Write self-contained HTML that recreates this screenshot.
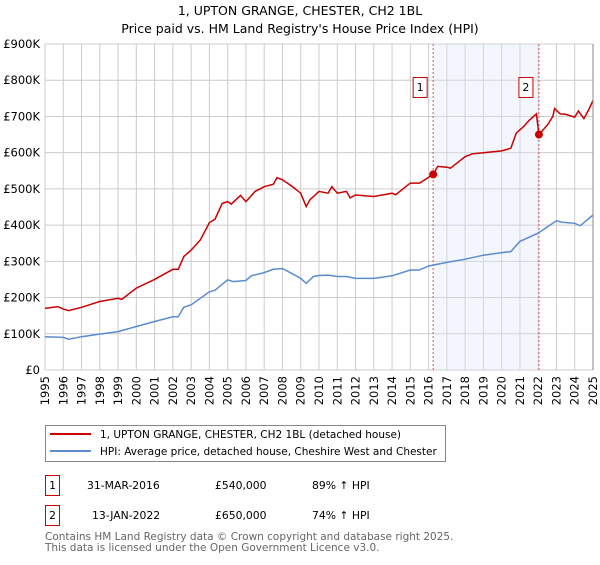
<!DOCTYPE html>
<html><head><meta charset="utf-8"><style>
body{margin:0;background:#fff;font-family:"Liberation Sans","DejaVu Sans",sans-serif;}
svg text{font-family:"DejaVu Sans","Liberation Sans",sans-serif;}
</style></head><body>
<svg id="chart" width="600" height="560" viewBox="0 0 600 560" xmlns="http://www.w3.org/2000/svg">
<text x="300" y="15" text-anchor="middle" font-size="12.5">1, UPTON GRANGE, CHESTER, CH2 1BL</text>
<text x="300" y="33" text-anchor="middle" font-size="12.5">Price paid vs. HM Land Registry's House Price Index (HPI)</text>
<g id="grid"></g><g id="shade"></g><g id="series"></g><g id="axes"></g>
<g>
<rect x="45.5" y="425.5" width="400" height="36" fill="#fff" stroke="#888"/>
<line x1="50" y1="434" x2="91" y2="434" stroke="#cc0000" stroke-width="2"/>
<text x="100" y="438" font-size="10.5">1, UPTON GRANGE, CHESTER, CH2 1BL (detached house)</text>
<line x1="50" y1="451" x2="91" y2="451" stroke="#5b8bd0" stroke-width="2"/>
<text x="100" y="455" font-size="10.5">HPI: Average price, detached house, Cheshire West and Chester</text>
</g>
<g font-size="10.8">
<rect x="45.5" y="475.5" width="14" height="20" fill="#fff" stroke="#cc0000"/>
<text x="52.5" y="489" text-anchor="middle">1</text>
<text x="87" y="489">31-MAR-2016</text><text x="215" y="489">£540,000</text><text x="312" y="489">89% ↑ HPI</text>
<rect x="45.5" y="505.5" width="14" height="20" fill="#fff" stroke="#cc0000"/>
<text x="52.5" y="519" text-anchor="middle">2</text>
<text x="92" y="519">13-JAN-2022</text><text x="215" y="519">£650,000</text><text x="312" y="519">74% ↑ HPI</text>
</g>
<text x="45" y="540" font-size="10.5" fill="#666">Contains HM Land Registry data © Crown copyright and database right 2025.</text>
<text x="45" y="551" font-size="10.5" fill="#666">This data is licensed under the Open Government Licence v3.0.</text>
</svg>
<script>
const hpiYears=[1995,1996,1996.3,1997,1998,1999,2000,2001,2002,2002.3,2002.6,2003,2004,2004.3,2005,2005.3,2006,2006.3,2007,2007.5,2008,2008.5,2009,2009.3,2009.7,2010,2010.5,2011,2011.5,2012,2013,2014,2015,2015.5,2016,2017,2018,2019,2020,2020.5,2021,2022,2022.5,2023,2023.3,2024,2024.3,2025];
const hpiValues=[92,90,85,92,99,106,120,134,147,147,173,180,216,220,249,244,247,260,269,278,280,267,253,239,258,261,262,258,258,253,253,260,276,276,287,297,306,317,324,327,355,378,395,412,408,405,398,428];
const priceYears=[1995,1995.7,1996,1996.3,1997,1998,1999,1999.2,2000,2001,2002,2002.3,2002.6,2003,2003.5,2004,2004.3,2004.7,2005,2005.2,2005.7,2006,2006.5,2007,2007.5,2007.7,2008,2008.5,2009,2009.3,2009.5,2010,2010.5,2010.7,2011,2011.5,2011.7,2012,2013,2014,2014.2,2015,2015.5,2016.25,2016.5,2017,2017.2,2018,2018.4,2019,2020,2020.5,2020.8,2021.2,2021.5,2021.9,2022.04,2022.5,2022.8,2022.9,2023.2,2023.5,2024,2024.2,2024.5,2024.8,2025];
const priceValues=[170,175,168,164,173,189,198,195,226,250,278,278,313,331,359,407,416,460,465,458,482,465,493,506,513,531,525,508,488,451,470,493,488,506,488,493,475,483,479,488,484,516,516,540,562,560,557,589,597,600,605,612,654,672,689,707,650,676,700,722,707,706,698,715,694,722,744];
const saleYears=[2016.25,2022.04];
const saleValues=[540,650];
const saleLabels=["1","2"];
const yTicks=[0,100,200,300,400,500,600,700,800,900];
const yTickLabels=["£0","£100K","£200K","£300K","£400K","£500K","£600K","£700K","£800K","£900K"];
const xTicks=[1995,1996,1997,1998,1999,2000,2001,2002,2003,2004,2005,2006,2007,2008,2009,2010,2011,2012,2013,2014,2015,2016,2017,2018,2019,2020,2021,2022,2023,2024,2025];

const NS="http://www.w3.org/2000/svg";
const X0=45,X1=593,Y0=370,Y1=44;
const xS=y=>X0+(y-1995)/(2025-1995)*(X1-X0);
const yS=v=>Y0-v/900*(Y0-Y1);
function mk(tag,attrs,parent){const e=document.createElementNS(NS,tag);for(const k in attrs)e.setAttribute(k,attrs[k]);parent.appendChild(e);return e;}
const grid=document.getElementById('grid'),axes=document.getElementById('axes'),series=document.getElementById('series'),shade=document.getElementById('shade');
yTicks.forEach((t,i)=>{
  const l=mk('line',{x1:X0,x2:X1,y1:yS(t),y2:yS(t),stroke:'#cccccc'},grid);
  
  
  const tx=mk('text',{x:40,y:yS(t)+4,'text-anchor':'end','font-size':11.5},axes);
  tx.textContent=yTickLabels[i];
  
  
});
xTicks.forEach(t=>{
  const l=mk('line',{x1:xS(t),x2:xS(t),y1:Y1,y2:Y0,stroke:'#cccccc'},grid);
  
  
  const tx=mk('text',{x:0,y:0,'text-anchor':'end','font-size':11.5,transform:`translate(${xS(t)+4},376) rotate(-90)`},axes);
  tx.textContent=t;
  
  
});
const sr=mk('rect',{x:xS(saleYears[0]),y:Y1,width:xS(saleYears[1])-xS(saleYears[0]),height:Y0-Y1,fill:'#dde6f8',opacity:0.35},shade);


const edge=mk('line',{x1:X1,x2:X1,y1:Y1,y2:Y0,stroke:'#888'},axes);


saleYears.forEach((y,i)=>{
  const l=mk('line',{x1:xS(y),x2:xS(y),y1:Y1,y2:Y0,stroke:'#e05050','stroke-dasharray':'2,2'},shade);
  
  
});
function pts(xs,vs){return xs.map((x,i)=>xS(x).toFixed(1)+','+yS(vs[i]).toFixed(1)).join(' ');}
const hp=mk('polyline',{points:pts(hpiYears,hpiValues),fill:'none',stroke:'#5b8bd0','stroke-width':1.5},series);


const pp=mk('polyline',{points:pts(priceYears,priceValues),fill:'none',stroke:'#cc0000','stroke-width':1.5},series);


saleYears.forEach((y,i)=>{
  const c=mk('circle',{cx:xS(y),cy:yS(saleValues[i]),r:4,fill:'#cc0000'},series);
  
  
  const b=mk('rect',{x:xS(y)-20,y:77.5,width:14,height:20,fill:'#fff',stroke:'#cc0000'},series);
  
  
  const t=mk('text',{x:xS(y)-13,y:91,'text-anchor':'middle','font-size':11},series);
  t.textContent=saleLabels[i];
  
  
});
</script>
</body></html>
